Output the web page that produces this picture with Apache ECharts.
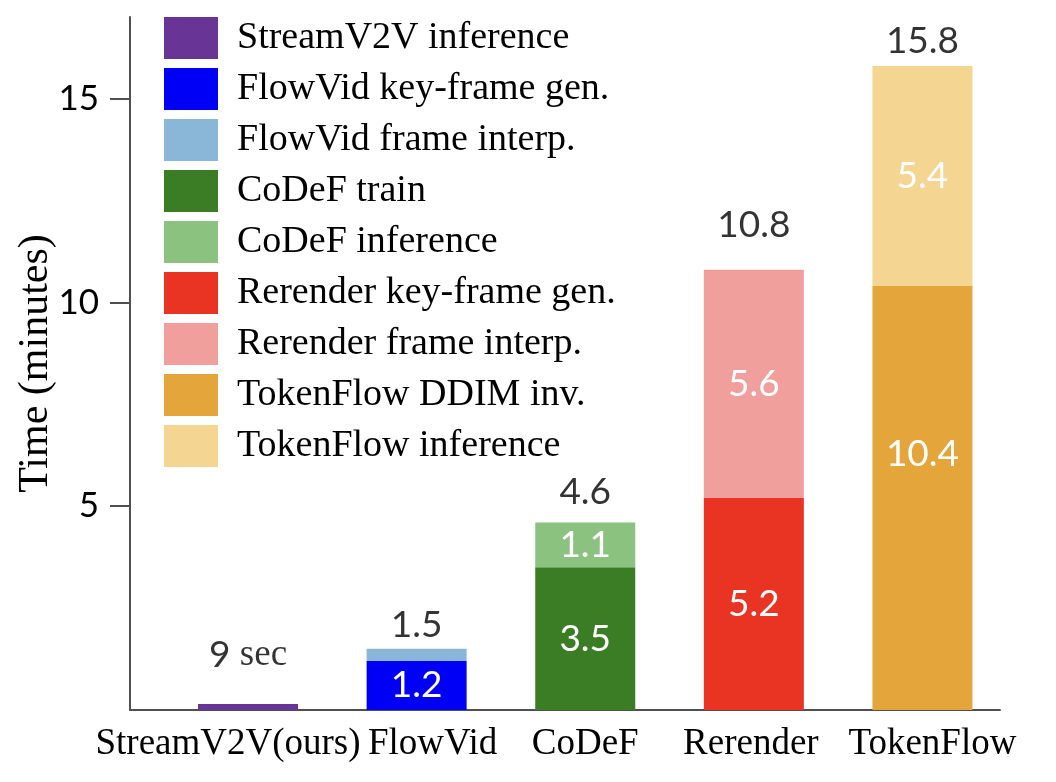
<!DOCTYPE html>
<html>
<head>
<meta charset="utf-8">
<script src="https://cdn.jsdelivr.net/npm/echarts@6/dist/echarts.min.js"></script>
<style>
html,body{margin:0;padding:0;background:#fff;}
#chart{width:1056px;height:782px;}
</style>
</head>
<body>
<div id="chart"></div>
<script>
// ---- data ----
const categories = ['StreamV2V(ours)', 'FlowVid', 'CoDeF', 'Rerender', 'TokenFlow'];
const segmentNames = [
  'StreamV2V inference',
  'FlowVid key-frame gen.',
  'FlowVid frame interp.',
  'CoDeF train',
  'CoDeF inference',
  'Rerender key-frame gen.',
  'Rerender frame interp.',
  'TokenFlow DDIM inv.',
  'TokenFlow inference'
];
// category number (1-based) each segment belongs to
const segmentCategory = [1, 2, 2, 3, 3, 4, 4, 5, 5];
// minutes
const segmentValues = [0.15, 1.2, 0.3, 3.5, 1.1, 5.2, 5.6, 10.4, 5.4];
const yTickValues = [5, 10, 15];

// ---- styles ----
const segmentColors = ['#683597', '#0000f6', '#8ab6d7', '#3a7d24', '#8cc280', '#e93424', '#f19f9d', '#e4a63b', '#f5d592'];
const totalLabelDistance = [30, 5, 12, 26, 6];
const insideLabelOffset = { 7: [0, -44] };
const xLabelShift = [-20, 16, 0, -3, 10];

const SANS = 'Lato';
const SERIF = '"Liberation Serif", "Times New Roman", serif';

const catNums = categories.map((c, i) => i + 1);
const totals = catNums.map(n =>
  segmentValues.reduce((s, v, k) => s + (segmentCategory[k] === n ? v : 0), 0));

// data items are [value, categoryNumber] so that the value dimension is stacked
const series = segmentNames.map((name, k) => ({
  name: name,
  type: 'bar',
  stack: 'time',
  barWidth: 100,
  encode: { x: 1, y: 0 },
  itemStyle: { color: segmentColors[k] },
  label: {
    show: true,
    position: 'inside',
    offset: insideLabelOffset[k] || [0, 0],
    color: '#ffffff',
    fontFamily: SANS,
    fontSize: 37,
    formatter: p => (p.value[0] >= 1 ? p.value[0].toFixed(1) : '')
  },
  data: catNums.map(n => [n === segmentCategory[k] ? segmentValues[k] : 0, n])
}));

series.push({
  name: 'total',
  type: 'scatter',
  symbolSize: 0,
  silent: true,
  data: totals.map((t, i) => ({
    value: [catNums[i], t],
    label: { distance: totalLabelDistance[i] }
  })),
  label: {
    show: true,
    position: 'top',
    color: '#000000',
    fontFamily: SANS,
    fontSize: 37,
    lineHeight: 37,
    formatter: p => {
      const t = p.value[1];
      if (t < 1) return '{n|' + Math.round(t * 60) + '} {s|sec}';
      return '{n|' + (Math.round(t * 10) / 10).toFixed(1) + '}';
    },
    rich: {
      n: { fontFamily: SANS, fontSize: 37, color: '#000000', lineHeight: 37 },
      s: { fontFamily: SERIF, fontSize: 37, color: '#000000', lineHeight: 37 }
    }
  },
  z: 5
});

const xRich = {};
xLabelShift.forEach((s, i) => {
  xRich['c' + i] = {
    fontFamily: SERIF, fontSize: 37, color: '#000',
    padding: [0, s < 0 ? -2 * s : 0, 0, s > 0 ? 2 * s : 0]
  };
});

const chart = echarts.init(document.getElementById('chart'), null, { renderer: 'canvas' });
chart.setOption({
  animation: false,
  backgroundColor: '#ffffff',
  grid: { left: 130, right: 56, top: 17, bottom: 72, containLabel: false },
  legend: {
    data: segmentNames,
    orient: 'vertical',
    left: 164,
    top: 17,
    padding: 0,
    icon: 'rect',
    itemWidth: 54,
    itemHeight: 42,
    itemGap: 9,
    selectedMode: false,
    textStyle: {
      fontFamily: SERIF,
      fontSize: 38,
      color: '#000',
      padding: [0, 0, 0, 14]
    }
  },
  xAxis: {
    type: 'value',
    min: 0.30,
    max: 5.46,
    splitLine: { show: false },
    axisLine: { show: true, onZero: false, lineStyle: { color: '#505050', width: 2 } },
    axisTick: { show: false },
    axisLabel: {
      customValues: catNums,
      showMinLabel: true,
      showMaxLabel: true,
      hideOverlap: false,
      formatter: v => {
        const i = Math.round(v) - 1;
        return categories[i] ? '{c' + i + '|' + categories[i] + '}' : '';
      },
      rich: xRich,
      fontFamily: SERIF,
      fontSize: 37,
      color: '#000',
      margin: 16
    }
  },
  yAxis: {
    type: 'value',
    min: 0,
    max: 17,
    name: 'Time (minutes)',
    nameLocation: 'middle',
    nameRotate: 90,
    nameGap: 73,
    nameMoveOverlap: false,
    nameTextStyle: { fontFamily: SERIF, fontSize: 42, color: '#000' },
    splitLine: { show: false },
    axisLine: { show: true, onZero: false, lineStyle: { color: '#505050', width: 2 } },
    axisTick: { show: true, length: 20, customValues: yTickValues, lineStyle: { color: '#505050', width: 2 } },
    axisLabel: {
      customValues: yTickValues,
      fontFamily: SANS,
      fontSize: 35,
      color: '#000',
      margin: 31
    }
  },
  series: series
});
</script>
</body>
</html>
